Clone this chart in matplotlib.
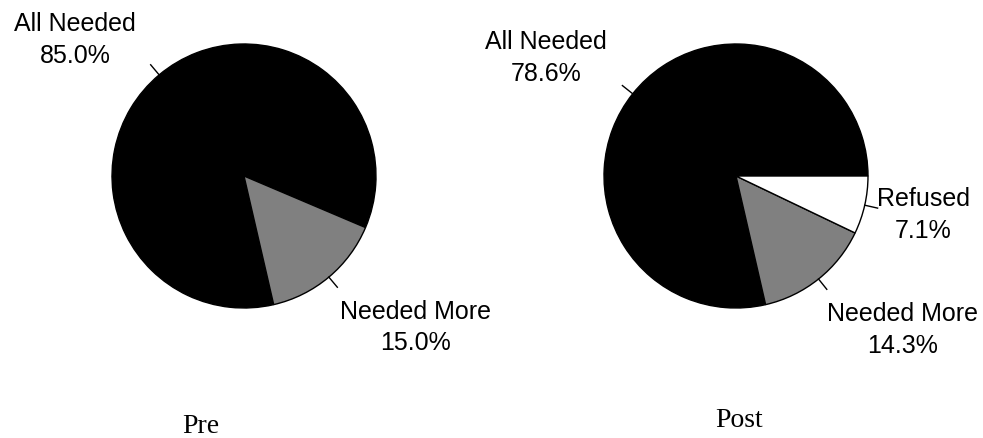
import numpy as np
import matplotlib.pyplot as plt

# data
pre_labels = ['All Needed', 'Needed More']
pre_values = [85.0, 15.0]
post_labels = ['All Needed', 'Needed More', 'Refused']
post_values = [78.6, 14.3, 7.1]
titles = ['Pre', 'Post']

colors = {'All Needed': 'black', 'Needed More': '#808080', 'Refused': 'white'}

W, H = 983, 439
fig = plt.figure(figsize=(W / 100, H / 100), dpi=100)


def draw_pie(cx, cy, r, labels, values, start, text_pos):
    ax = fig.add_axes([(cx - r) / W, (H - cy - r) / H, 2 * r / W, 2 * r / H])
    wedges, _ = ax.pie(values, colors=[colors[l] for l in labels], startangle=start,
                       counterclock=True,
                       wedgeprops=dict(edgecolor='black', linewidth=1.0))
    ax.set_xlim(-1, 1)
    ax.set_ylim(-1, 1)
    ax.set_aspect('equal')
    ax.axis('off')
    for w, lab, v, (tx, ty) in zip(wedges, labels, values, text_pos):
        mid = np.deg2rad((w.theta1 + w.theta2) / 2)
        ax.plot([np.cos(mid) * 1.0, np.cos(mid) * 1.1],
                [np.sin(mid) * 1.0, np.sin(mid) * 1.1],
                color='black', lw=1.0, clip_on=False)
        ax.text(tx, ty, '%s\n%.1f%%' % (lab, v), ha='center', va='center',
                fontsize=18, family='Liberation Sans', linespacing=1.4)
    return ax


draw_pie(244, 177, 132, pre_labels, pre_values, -23,
         [(-1.28, 1.04), (1.30, -1.14)])
draw_pie(736, 177, 132, post_labels, post_values, 0,
         [(-1.44, 0.90), (1.26, -1.16), (1.42, -0.29)])

fig.text(201 / W, 1 - 433 / H, titles[0], ha='center', va='baseline',
         fontsize=20, family='Liberation Serif')
fig.text(739 / W, 1 - 427 / H, titles[1], ha='center', va='baseline',
         fontsize=20, family='Liberation Serif')

fig.savefig('out.png', dpi=100)
